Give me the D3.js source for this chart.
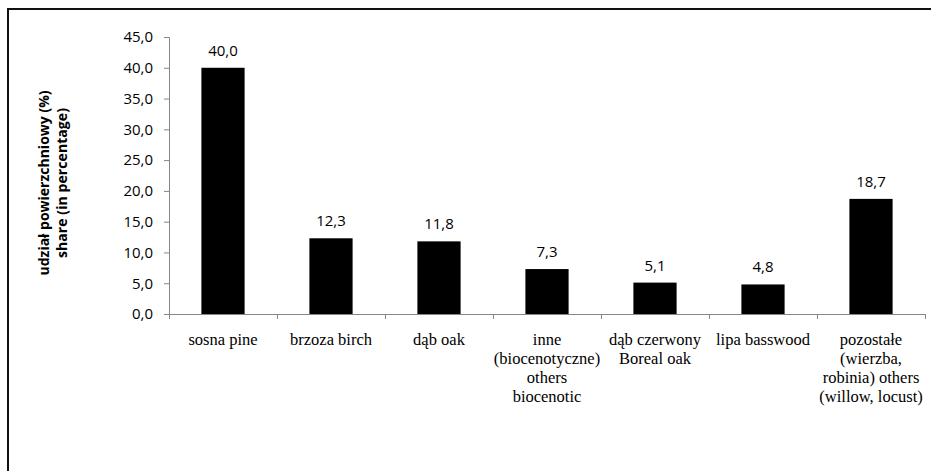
<!DOCTYPE html>
<html>
<head>
<meta charset="utf-8">
<script src="https://cdn.jsdelivr.net/npm/d3@7"></script>
<style>
  html, body { margin: 0; padding: 0; background: #fff; }
  svg { display: block; }
  text.sans { font-family: "Open Sans", "DejaVu Sans", sans-serif; }
  text.serif { font-family: "Liberation Serif", "DejaVu Serif", serif; }
</style>
</head>
<body>
<svg id="chart" width="931" height="471"></svg>
<script>
// Species share of the stand area (%)
const categories = [
  ["sosna pine"],
  ["brzoza birch"],
  ["dąb oak"],
  ["inne", "(biocenotyczne)", "others", "biocenotic"],
  ["dąb czerwony", "Boreal oak"],
  ["lipa basswood"],
  ["pozostałe", "(wierzba,", "robinia) others", "(willow, locust)"]
];
const values = [40.0, 12.3, 11.8, 7.3, 5.1, 4.8, 18.7];
const yTicks = [0, 5, 10, 15, 20, 25, 30, 35, 40, 45];
const yTitle = ["udział powierzchniowy (%)", "share (in percentage)"];

const svg = d3.select("#chart");
const fmt = v => v.toFixed(1).replace(".", ",");
const keys = categories.map((c, i) => String(i));

const plot = { left: 169, right: 925, top: 37, bottom: 314 };

const x = d3.scaleBand()
  .domain(keys)
  .range([plot.left, plot.right])
  .paddingInner(0.6)
  .paddingOuter(0.3);

// band positions for tick marks (no padding)
const xCat = d3.scaleBand().domain(keys).range([plot.left, plot.right]);

const y = d3.scaleLinear().domain([0, 45]).range([plot.bottom, plot.top]);

// outer frame
svg.append("path")
  .attr("d", `M8,471 V9 H931`)
  .attr("fill", "none")
  .attr("stroke", "#111")
  .attr("stroke-width", 2);

// y axis
const yAxis = svg.append("g")
  .attr("transform", `translate(${plot.left},0)`)
  .call(d3.axisLeft(y).tickValues(yTicks).tickFormat(fmt).tickSize(5).tickPadding(11));
yAxis.attr("font-family", null).attr("font-size", null);
yAxis.select(".domain").attr("stroke", "#868686");
yAxis.selectAll(".tick line").attr("stroke", "#868686");
yAxis.selectAll(".tick text")
  .attr("class", "sans")
  .attr("fill", "#000")
  .style("font-size", "15px");

// x axis line and category separators
svg.append("line")
  .attr("x1", plot.left - 5).attr("x2", plot.right)
  .attr("y1", plot.bottom + 0.5).attr("y2", plot.bottom + 0.5)
  .attr("stroke", "#868686");
const sepX = keys.map(k => xCat(k)).concat([plot.right]);
svg.append("g").selectAll("line")
  .data(sepX)
  .join("line")
  .attr("x1", d => Math.round(d) + 0.5).attr("x2", d => Math.round(d) + 0.5)
  .attr("y1", plot.bottom).attr("y2", plot.bottom + 5)
  .attr("stroke", "#868686");

// bars
svg.append("g").selectAll("rect")
  .data(values)
  .join("rect")
  .attr("x", (d, i) => x(keys[i]))
  .attr("width", x.bandwidth())
  .attr("y", d => y(d))
  .attr("height", d => y(0) - y(d))
  .attr("fill", "#000");

// value labels
svg.append("g").selectAll("text")
  .data(values)
  .join("text")
  .attr("class", "sans")
  .attr("x", (d, i) => x(keys[i]) + x.bandwidth() / 2)
  .attr("y", d => y(d) - 12)
  .attr("text-anchor", "middle")
  .style("font-size", "15px")
  .attr("fill", "#000")
  .text(fmt);

// category labels
const catG = svg.append("g").selectAll("text")
  .data(categories)
  .join("text")
  .attr("class", "serif")
  .attr("text-anchor", "middle")
  .attr("transform", (d, i) => `translate(${xCat(keys[i]) + xCat.bandwidth() / 2},345)`)
  .style("font-size", "16.5px")
  .attr("fill", "#000");
catG.selectAll("tspan")
  .data(d => d)
  .join("tspan")
  .attr("x", 0)
  .attr("y", (d, i) => i * 19)
  .text(d => d);

// y axis title: two rotated lines, letter-spaced out to their drawn lengths
const titleLen = [181, 150];
const titleCy = 183;
const titleText = svg.append("g").selectAll("text")
  .data(yTitle)
  .join("text")
  .attr("class", "sans")
  .attr("transform", (d, i) => `translate(${49 + i * 18},${titleCy}) rotate(-90)`)
  .attr("text-anchor", "middle")
  .style("font-size", "14px")
  .style("font-weight", "bold")
  .attr("fill", "#000")
  .text(d => d);
titleText.each(function (d, i) {
  const natural = this.getComputedTextLength();
  const extra = (titleLen[i] - natural) / (d.length - 1);
  if (extra > 0) d3.select(this).style("letter-spacing", extra + "px");
});
</script>
</body>
</html>
